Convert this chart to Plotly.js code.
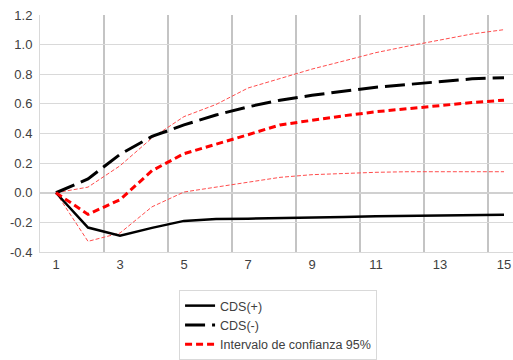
<!DOCTYPE html>
<html><head><meta charset="utf-8">
<script src="https://cdn.plot.ly/plotly-3.0.1.min.js"></script>
<style>body{margin:0;background:#fff}#c{width:513px;height:360px}</style>
</head><body><div id="c"></div>
<script>
const periods = [1,2,3,4,5,6,7,8,9,10,11,12,13,14,15];
const cdsPos = [0,-0.235,-0.29,-0.237,-0.19,-0.177,-0.175,-0.172,-0.168,-0.163,-0.158,-0.155,-0.152,-0.149,-0.148];
const cdsNeg = [0,0.093,0.259,0.38,0.458,0.525,0.58,0.625,0.658,0.685,0.713,0.731,0.749,0.769,0.777];
const ciMid = [0,-0.146,-0.047,0.149,0.264,0.326,0.392,0.458,0.49,0.52,0.547,0.569,0.591,0.609,0.625];
const ciUp = [0,0.038,0.182,0.37,0.514,0.596,0.707,0.769,0.835,0.89,0.946,0.99,1.03,1.072,1.101];
const ciLo = [0,-0.328,-0.272,-0.095,0.005,0.038,0.076,0.104,0.122,0.131,0.138,0.142,0.142,0.142,0.142];
const xTickLabels = ['1','3','5','7','9','11','13','15'];
const xGrid = [0.5,2.5,4.5,6.5,8.5,10.5,12.5,14.5];
const yTicks = [-0.4,-0.2,0,0.2,0.4,0.6,0.8,1.0,1.2];
const xRange = [0.5,15.28125];

const traces = [
  {x:periods,y:ciUp,mode:'lines',line:{color:'#ff4d4d',width:1,dash:'4px,2px'},showlegend:false},
  {x:periods,y:ciLo,mode:'lines',line:{color:'#ff4d4d',width:1,dash:'4px,2px'},showlegend:false},
  {x:periods,y:cdsPos,mode:'lines',name:'CDS(+)',line:{color:'#000',width:2.5}},
  {x:periods,y:cdsNeg,mode:'lines',name:'CDS(-)',line:{color:'#000',width:3,dash:'20px,7px'}},
  {x:periods,y:ciMid,mode:'lines',name:'Intervalo de confianza 95%',line:{color:'#ff0000',width:3,dash:'7px,4px'}}
];
const layout = {
  width:513,height:360,
  margin:{l:40,r:0,t:15,b:104},
  paper_bgcolor:'#fff',plot_bgcolor:'#fff',
  font:{family:'Liberation Sans, Arial, sans-serif',size:12,color:'#404040'},
  xaxis:{range:xRange,tickmode:'array',tickvals:xGrid,ticktext:xTickLabels,ticklabelshift:16,
    showgrid:true,gridcolor:'#c4c4c4',gridwidth:1.5,zeroline:false,
    showline:true,linecolor:'#d9d9d9',linewidth:1,ticks:'',tickfont:{size:13}},
  yaxis:{range:[-0.4,1.2],tickmode:'array',tickvals:yTicks,ticktext:yTicks.map(v=>v.toFixed(1)),
    showgrid:true,gridcolor:'#d9d9d9',gridwidth:1,zeroline:true,zerolinecolor:'#d0d0d0',zerolinewidth:1.5,
    showline:true,linecolor:'#d9d9d9',linewidth:1,ticks:'',tickfont:{size:13},ticklabelstandoff:4},
  legend:{x:0.294,y:-0.162,xanchor:'left',yanchor:'top',bordercolor:'#d9d9d9',borderwidth:1,
    font:{size:12.5,color:'#404040'},tracegroupgap:0,itemwidth:30}
};
Plotly.newPlot('c',traces,layout,{displayModeBar:false,staticPlot:true});
</script></body></html>
